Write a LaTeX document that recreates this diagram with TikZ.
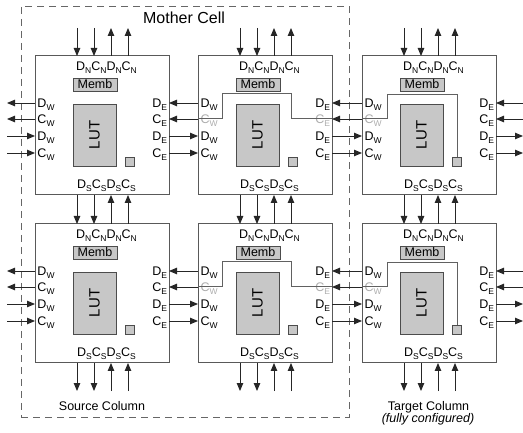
\documentclass[tikz,border=0pt]{standalone}
\usepackage{fontspec}
\setmainfont{Liberation Sans}
\usetikzlibrary{arrows.meta}
\newcommand\sbl[2]{#1\raisebox{-2.6pt}{\fontsize{8.5}{9}\selectfont #2}}
\begin{document}
\begin{tikzpicture}[x=1pt,y=-1pt,
  arr/.style={draw=black!85, line width=0.9pt, -{Triangle[length=8pt,width=6.5pt]}},
  cellbox/.style={draw=black!65, line width=1pt, minimum width=134pt, minimum height=139pt, inner sep=0pt, outer sep=0pt},
  graybox/.style={draw=black!70, fill=black!22, line width=0.8pt, inner sep=0pt, outer sep=0pt},
  lbl/.style={font=\fontsize{12.5}{14}\selectfont, inner sep=0pt, outer sep=0pt},
  gpath/.style={draw=black!62, line width=1pt},
  mother/.style={draw=black!60, line width=0.9pt, dash pattern=on 7pt off 5pt, minimum width=328pt, minimum height=411pt, inner sep=0pt}]
\useasboundingbox (0,0) rectangle (523,433);
\node[mother] (mc) at (185,211.5) {};
\node[font=\fontsize{16}{18}\selectfont, anchor=base, inner sep=0pt] (mctext) at (184,24) {Mother Cell};
\foreach \c/\X in {1/35,2/198,3/362}{
  \foreach \r/\Y in {1/56,2/224}{
    \node[cellbox] (cell\c\r) at (\X+67,\Y+69.5) {};
    \ifnum\c=1 \def\cwcol{black}\else\def\cwcol{black!32}\fi
    \ifnum\c=2 \def\cecol{black!32}\else\def\cecol{black}\fi
    \begin{scope}[shift={(cell\c\r.north west)}]
      \node[graybox, minimum width=44pt, minimum height=13pt, font=\fontsize{12.5}{14}\selectfont] (memb\c\r) at (60,28.5) {Memb};
      \node[graybox, minimum width=43pt, minimum height=62pt, font=\fontsize{15}{17}\selectfont] (lut\c\r) at (59.5,79) {\rotatebox{90}{LUT}};
      \node[graybox, minimum width=9pt, minimum height=9pt] (sq\c\r) at (95,105.5) {};
      \node[lbl, anchor=base] (tl\c\r) at (71.5,15) {\sbl{D}{N}\sbl{C}{N}\sbl{D}{N}\sbl{C}{N}};
      \node[lbl, anchor=base] (bl\c\r) at (71.5,132.5) {\sbl{D}{S}\sbl{C}{S}\sbl{D}{S}\sbl{C}{S}};
      \node[lbl, anchor=base west] (w1\c\r) at (2.5,51.5) {\sbl{D}{W}};
      \node[lbl, anchor=base west, text=\cwcol] (w2\c\r) at (2.5,67.5) {\sbl{C}{W}};
      \node[lbl, anchor=base west] (w3\c\r) at (2.5,84.5) {\sbl{D}{W}};
      \node[lbl, anchor=base west] (w4\c\r) at (2.5,101.5) {\sbl{C}{W}};
      \node[lbl, anchor=base east] (e1\c\r) at (132,51.5) {\sbl{D}{E}};
      \node[lbl, anchor=base east, text=\cecol] (e2\c\r) at (132,67.5) {\sbl{C}{E}};
      \node[lbl, anchor=base east] (e3\c\r) at (132,84.5) {\sbl{D}{E}};
      \node[lbl, anchor=base east] (e4\c\r) at (132,101.5) {\sbl{C}{E}};
      \ifnum\c=2
        \draw[gpath] (0,63) -- (24,63) -- (24,38) -- (93,38) -- (93,63) -- (134,63);
      \fi
      \ifnum\c=3
        \draw[gpath] (0,63) -- (25,63) -- (25,39) -- (95,39) -- (sq\c\r.north);
      \fi
    \end{scope}
  }
}
% vertical arrows
\foreach \c in {1,2,3}{
  \foreach \dx/\dir in {42/0,59/0,76/1,93/1}{
    \ifnum\dir=0
      \draw[arr] ([xshift=\dx pt, yshift=28pt]cell\c1.north west) -- ([xshift=\dx pt]cell\c1.north west);
      \draw[arr] ([xshift=\dx pt]cell\c1.south west) -- ([xshift=\dx pt]cell\c2.north west);
      \draw[arr] ([xshift=\dx pt]cell\c2.south west) -- ([xshift=\dx pt, yshift=-28pt]cell\c2.south west);
    \else
      \draw[arr] ([xshift=\dx pt]cell\c1.north west) -- ([xshift=\dx pt, yshift=28pt]cell\c1.north west);
      \draw[arr] ([xshift=\dx pt]cell\c2.north west) -- ([xshift=\dx pt]cell\c1.south west);
      \draw[arr] ([xshift=\dx pt, yshift=-28pt]cell\c2.south west) -- ([xshift=\dx pt]cell\c2.south west);
    \fi
  }
}
% horizontal arrows
\foreach \r in {1,2}{
  \foreach \dy/\dir in {47/0,63/0,80/1,97/1}{
    \ifnum\dir=0
      \draw[arr] ([yshift=-\dy pt]cell1\r.north west) -- ([xshift=-28pt, yshift=-\dy pt]cell1\r.north west);
      \draw[arr] ([yshift=-\dy pt]cell2\r.north west) -- ([yshift=-\dy pt]cell1\r.north east);
      \draw[arr] ([yshift=-\dy pt]cell3\r.north west) -- ([yshift=-\dy pt]cell2\r.north east);
      \draw[arr] ([xshift=27pt, yshift=-\dy pt]cell3\r.north east) -- ([yshift=-\dy pt]cell3\r.north east);
    \else
      \draw[arr] ([xshift=-28pt, yshift=-\dy pt]cell1\r.north west) -- ([yshift=-\dy pt]cell1\r.north west);
      \draw[arr] ([yshift=-\dy pt]cell1\r.north east) -- ([yshift=-\dy pt]cell2\r.north west);
      \draw[arr] ([yshift=-\dy pt]cell2\r.north east) -- ([yshift=-\dy pt]cell3\r.north west);
      \draw[arr] ([yshift=-\dy pt]cell3\r.north east) -- ([xshift=27pt, yshift=-\dy pt]cell3\r.north east);
    \fi
  }
}
\node[lbl, anchor=base] (src) at (102,410) {Source Column};
\node[lbl, anchor=base] (tgt) at (428.5,410) {Target Column};
\node[lbl, anchor=base, font=\fontsize{12.5}{14}\selectfont\itshape] (tgt2) at (428,422.5) {(fully configured)};
\end{tikzpicture}
\end{document}
